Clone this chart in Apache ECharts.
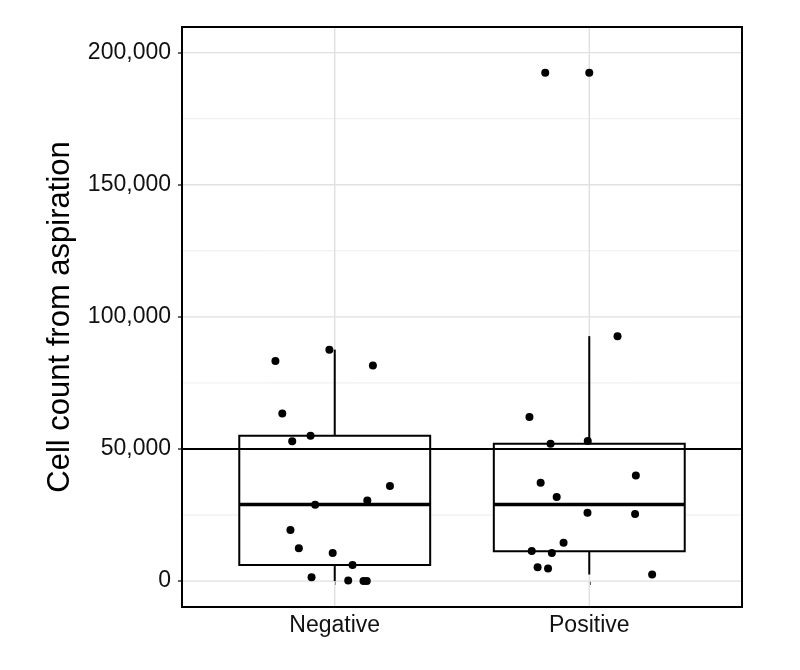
<!DOCTYPE html>
<html>
<head>
<meta charset="utf-8">
<script src="https://cdn.jsdelivr.net/npm/echarts@6/dist/echarts.min.js"></script>
<style>
  html, body { margin: 0; padding: 0; background: #fff; }
  #chart { width: 800px; height: 670px; }
</style>
</head>
<body>
<div id="chart"></div>
<script>
// ---- data ----
const categories = ['Negative', 'Positive'];
const yTickValues = [0, 50000, 100000, 150000, 200000];
const yMinorValues = [25000, 75000, 125000, 175000];
const referenceValue = 50000;

// box stats: [lower whisker, Q1, median, Q3, upper whisker]
const negBox = [0, 6100, 29000, 55000, 87600];
const posBox = [2500, 11300, 29000, 52000, 92700];

// individual points (value) and horizontal jitter (in category units)
const negValues = [83300, 87600, 81600, 63400, 55000, 52900, 36000, 30500, 28900, 19300, 12400, 10600, 6100, 1500, 200, 0, 0];
const negJitter = [-0.233, -0.021, 0.150, -0.206, -0.095, -0.167, 0.217, 0.128, -0.077, -0.174, -0.141, -0.008, 0.070, -0.091, 0.053, 0.113, 0.126];
const posValues = [192400, 192400, 92700, 62100, 52000, 53000, 40000, 37200, 31800, 25900, 25400, 14500, 11400, 10600, 5200, 4800, 2500];
const posJitter = [-0.173, 0.000, 0.111, -0.235, -0.152, -0.006, 0.183, -0.191, -0.128, -0.007, 0.180, -0.101, -0.226, -0.147, -0.203, -0.162, 0.247];

// ---- axis ranges ----
const X_MIN = 0.4, X_MAX = 2.6;
const Y_MIN = -9800, Y_MAX = 209700;
const BOX_WIDTH = 0.75;

const FONT = '"Liberation Sans", Arial, Helvetica, sans-serif';

const boxData = [
  [1].concat(negBox),
  [2].concat(posBox)
];
const pointData = negValues.map((v, i) => [1 + negJitter[i], v])
  .concat(posValues.map((v, i) => [2 + posJitter[i], v]));

function hLineSeries(values, color, width, z) {
  return {
    type: 'custom',
    z: z,
    silent: true,
    data: values.map(v => [X_MIN, v]),
    encode: { x: 0, y: 1 },
    renderItem: function (params, api) {
      const y = api.value(1);
      const p1 = api.coord([X_MIN, y]);
      const p2 = api.coord([X_MAX, y]);
      return { type: 'line', shape: { x1: p1[0], y1: p1[1], x2: p2[0], y2: p2[1] },
               style: { stroke: color, lineWidth: width } };
    }
  };
}

const chart = echarts.init(document.getElementById('chart'), null, { renderer: 'canvas' });
chart.setOption({
  animation: false,
  backgroundColor: '#fff',
  grid: { left: 182, right: 58, top: 27, bottom: 63, containLabel: false, outerBoundsMode: 'none', show: false },
  xAxis: {
    type: 'value', min: X_MIN, max: X_MAX,
    axisLine: { show: false },
    splitLine: { show: false },
    axisTick: { show: true, customValues: [1, 2], length: 4, lineStyle: { color: '#333', width: 1.5 } },
    axisLabel: {
      customValues: [1, 2], margin: 7,
      formatter: v => categories[Math.round(v) - 1],
      fontSize: 23, color: '#111', fontFamily: FONT
    }
  },
  yAxis: {
    type: 'value', min: Y_MIN, max: Y_MAX,
    name: 'Cell count from aspiration',
    nameLocation: 'middle', nameRotate: 90, nameGap: 106,
    nameTextStyle: { fontSize: 31, color: '#000', fontFamily: FONT },
    axisLine: { show: false },
    splitLine: { show: false },
    axisTick: { show: true, customValues: yTickValues, length: 4, lineStyle: { color: '#333', width: 1.5 } },
    axisLabel: {
      customValues: yTickValues, margin: 11,
      formatter: v => Number(v).toLocaleString('en-US'),
      fontSize: 23, color: '#111', fontFamily: FONT
    }
  },
  series: [
    hLineSeries(yMinorValues, '#ebebeb', 0.9, 1),
    hLineSeries(yTickValues, '#e0e0e0', 1.4, 1),
    {
      type: 'custom', z: 1, silent: true,
      data: categories.map((c, i) => [i + 1, Y_MIN]),
      encode: { x: 0, y: 1 },
      renderItem: function (params, api) {
        const x = api.value(0);
        const p1 = api.coord([x, Y_MIN]);
        const p2 = api.coord([x, Y_MAX]);
        return { type: 'line', shape: { x1: p1[0], y1: p1[1], x2: p2[0], y2: p2[1] },
                 style: { stroke: '#e0e0e0', lineWidth: 1.4 } };
      }
    },
    {
      type: 'custom', z: 2, silent: true,
      data: boxData,
      encode: { x: 0, y: [1, 2, 3, 4, 5] },
      renderItem: function (params, api) {
        const x = api.value(0);
        const pLo = api.coord([x, api.value(1)]);
        const pQ1 = api.coord([x, api.value(2)]);
        const pMed = api.coord([x, api.value(3)]);
        const pQ3 = api.coord([x, api.value(4)]);
        const pHi = api.coord([x, api.value(5)]);
        const half = api.size([BOX_WIDTH, 0])[0] / 2;
        const ls = { stroke: '#000', lineWidth: 2 };
        return {
          type: 'group',
          children: [
            { type: 'line', shape: { x1: pHi[0], y1: pHi[1], x2: pQ3[0], y2: pQ3[1] }, style: ls },
            { type: 'line', shape: { x1: pQ1[0], y1: pQ1[1], x2: pLo[0], y2: pLo[1] }, style: ls },
            { type: 'rect', shape: { x: pQ3[0] - half, y: pQ3[1], width: half * 2, height: pQ1[1] - pQ3[1] },
              style: { fill: '#fff', stroke: '#000', lineWidth: 2 } },
            { type: 'line', shape: { x1: pMed[0] - half, y1: pMed[1], x2: pMed[0] + half, y2: pMed[1] },
              style: { stroke: '#000', lineWidth: 3.6 } }
          ]
        };
      }
    },
    hLineSeries([referenceValue], '#000', 2, 3),
    {
      type: 'scatter', z: 4, silent: true,
      data: pointData,
      symbol: 'circle', symbolSize: 8,
      itemStyle: { color: '#000', opacity: 1 }
    },
    {
      type: 'custom', z: 5, silent: true,
      data: [[X_MIN, Y_MIN]],
      encode: { x: 0, y: 1 },
      renderItem: function (params, api) {
        const p1 = api.coord([X_MIN, Y_MAX]);
        const p2 = api.coord([X_MAX, Y_MIN]);
        return { type: 'rect', shape: { x: p1[0], y: p1[1], width: p2[0] - p1[0], height: p2[1] - p1[1] },
                 style: { fill: 'none', stroke: '#000', lineWidth: 2 } };
      }
    }
  ]
});
</script>
</body>
</html>
